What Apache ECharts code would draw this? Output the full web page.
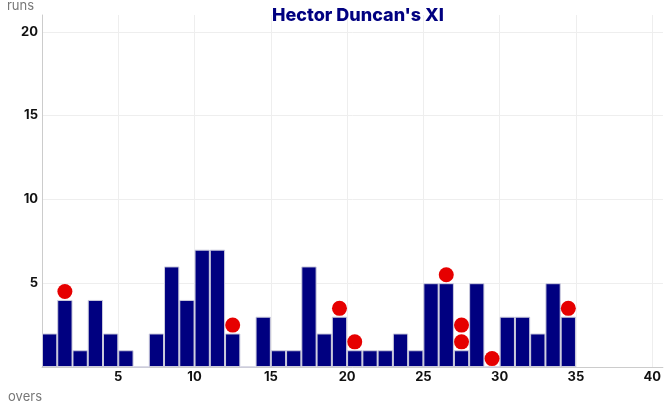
<!DOCTYPE html>
<html>
<head>
    <meta charset="utf-8">
    <title>Hector Duncan's XI</title>
    <script src="https://cdn.jsdelivr.net/npm/echarts@6/dist/echarts.min.js"></script>
    <style>
        html, body { margin: 0; padding: 0; background: #fff; }
    </style>
</head>
<body>
    <div id="main" style="width: 664px;height:410px;"></div>
    <script type="text/javascript">
        // runs per over (overs 1..35)
        var overs = [1, 2, 3, 4, 5, 6, 7, 8, 9, 10, 11, 12, 13, 14, 15, 16, 17, 18, 19, 20,
                     21, 22, 23, 24, 25, 26, 27, 28, 29, 30, 31, 32, 33, 34, 35];
        var runs = [2, 4, 1, 4, 2, 1, 0, 2, 6, 4, 7, 7, 2, 0, 3, 1, 1, 6, 2, 3,
                    1, 1, 1, 2, 1, 5, 5, 1, 5, 0, 3, 3, 2, 5, 3];

        // wickets: over and the height the marker sits at
        var wicketOvers = [2, 13, 20, 21, 27, 28, 28, 30, 35];
        var wicketRuns = [4.5, 2.5, 3.5, 1.5, 5.5, 2.5, 1.5, 0.5, 3.5];

        var barData = [];
        for (var i = 0; i < overs.length; i++) {
            barData.push([overs[i] - 0.5, runs[i]]);
        }
        var wicketData = [];
        for (var j = 0; j < wicketOvers.length; j++) {
            wicketData.push([wicketOvers[j] - 0.5, wicketRuns[j]]);
        }

        var myChart = echarts.init(document.getElementById('main'));

        var option = {
            animation: false,
            textStyle: { fontFamily: 'Inter' },
            title: {
                text: "Hector Duncan's XI",
                left: 267,
                top: 2,
                textStyle: { color: '#000080', fontSize: 18, fontWeight: 800, fontFamily: 'Inter' }
            },
            grid: { left: 42, right: 0, top: 13, bottom: 43 },
            xAxis: {
                type: 'value',
                min: 0,
                max: 40.7,
                interval: 5,
                name: 'overs',
                nameLocation: 'start',
                nameGap: 0,
                nameTextStyle: { color: '#777', fontSize: 13, align: 'right', verticalAlign: 'top', padding: [24, 0, 0, 0] },
                axisLine: { lineStyle: { color: '#ccc' } },
                axisTick: { show: false },
                axisLabel: { showMinLabel: false, showMaxLabel: false, color: '#111', fontWeight: 'bold', fontSize: 13, margin: 4 },
                splitLine: { showMaxLine: false, lineStyle: { color: '#eee' } }
            },
            yAxis: {
                type: 'value',
                min: 0,
                max: 21,
                interval: 5,
                name: 'runs',
                nameLocation: 'end',
                nameGap: 2,
                nameTextStyle: { color: '#777', fontSize: 13, align: 'right', padding: [0, 8, 0, 0] },
                axisLine: { show: true, lineStyle: { color: '#ccc' } },
                axisTick: { show: false },
                axisLabel: { showMinLabel: false, showMaxLabel: false, color: '#111', fontWeight: 'bold', fontSize: 13, margin: 4, padding: [6, 0, 0, 0] },
                splitLine: { showMaxLine: false, lineStyle: { color: '#eee' } }
            },
            series: [
                {
                    name: 'runs',
                    type: 'bar',
                    data: barData,
                    barWidth: 15.3,
                    itemStyle: { color: '#000080', borderColor: '#ccd', borderWidth: 1 }
                },
                {
                    name: 'wickets',
                    type: 'scatter',
                    data: wicketData,
                    symbolSize: 15,
                    itemStyle: { color: '#e60000', opacity: 1 },
                    z: 5
                }
            ]
        };

        myChart.setOption(option);

        window.addEventListener("resize", function(){
            myChart.resize();
        })
    </script>
</body>
</html>
